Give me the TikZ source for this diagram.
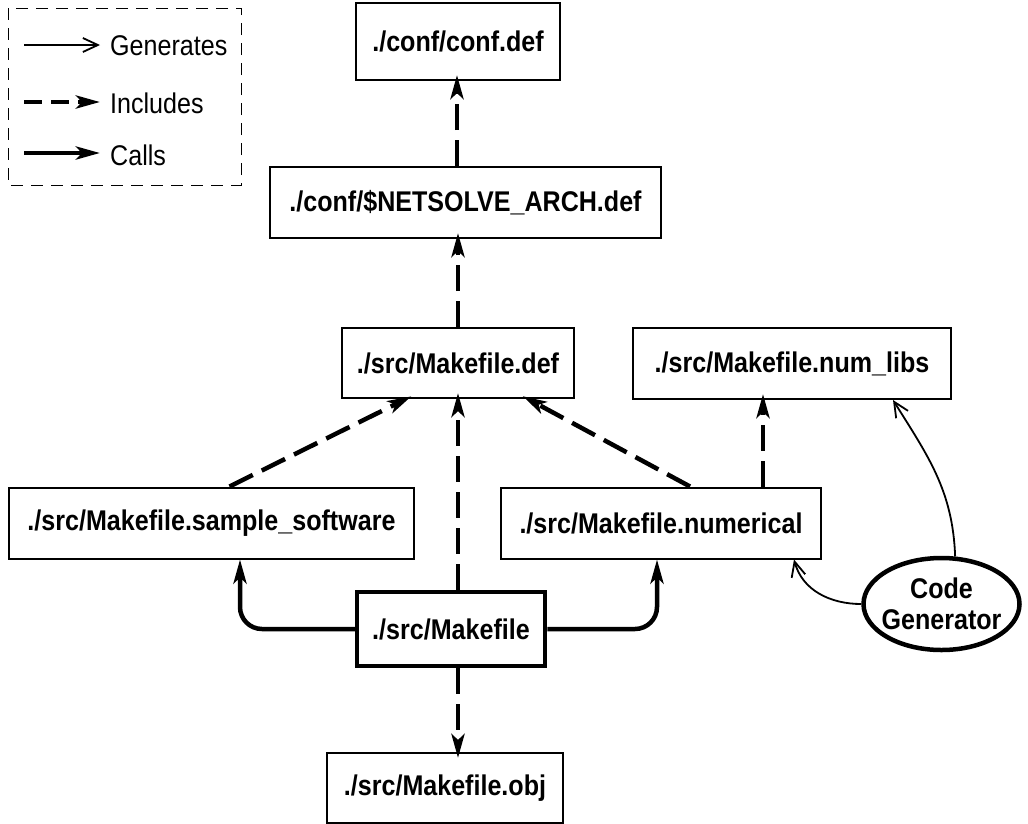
\documentclass[tikz,border=0pt]{standalone}
\usepackage{fontspec}
\setmainfont{Liberation Sans}
\newfontfamily\labfont[FakeStretch=0.88]{Liberation Sans}
\usetikzlibrary{arrows.meta,shapes.geometric}
\begin{document}
\begin{tikzpicture}[x=1pt,y=-1pt,
  box/.style={draw, line width=2pt, inner sep=0pt, font=\labfont\bfseries\fontsize{28.5}{32}\selectfont},
  inc/.style={line width=4.5pt, dash pattern=on 26pt off 10pt, -{Stealth[length=24pt,width=13pt,inset=6pt]}, shorten >=-6pt},
  call/.style={line width=4.5pt, -{Stealth[length=24pt,width=13pt,inset=6pt]}, rounded corners=22pt},
  gen/.style={line width=1.8pt, -{Straight Barb[length=15pt,width=14pt]}},
  legtext/.style={anchor=west, inner sep=0pt, font=\labfont\fontsize{28.5}{32}\selectfont}]
\useasboundingbox (0,0) rectangle (1028,823);
% legend
\draw[line width=1pt, dash pattern=on 12pt off 8pt] (8,8) rectangle (241,185);
\coordinate (g1) at (24,45); \coordinate (g2) at (100,45);
\coordinate (i1) at (24,102); \coordinate (i2) at (100,102);
\coordinate (c1) at (24,153); \coordinate (c2) at (100,153);
\draw[gen] (g1) -- (g2);
\draw[inc, shorten >=0pt, dash pattern=on 18pt off 9pt] (i1) -- (i2);
\draw[call] (c1) -- (c2);
\node[legtext] (lg) at (110,46) {Generates};
\node[legtext] (li) at (110,103) {Includes};
\node[legtext] (lc) at (110,155) {Calls};
% boxes
\node[box, minimum width=204pt, minimum height=77pt] (conf) at (458,41.5) {./conf/conf.def};
\node[box, minimum width=391pt, minimum height=71pt] (arch) at (465.5,202.5) {./conf/\$NETSOLVE\_ARCH.def};
\node[box, minimum width=232pt, minimum height=70pt] (mdef) at (458,363) {./src/Makefile.def};
\node[box, minimum width=318pt, minimum height=71pt] (numlibs) at (792,363.5) {./src/Makefile.num\_libs};
\node[box, minimum width=405pt, minimum height=71pt] (sample) at (211.5,523) {./src/Makefile.sample\_software};
\node[box, minimum width=320pt, minimum height=71pt] (numerical) at (661,523) {./src/Makefile.numerical};
\node[box, line width=4.5pt, minimum width=188pt, minimum height=74pt] (make) at (451,629) {./src/Makefile};
\node[box, minimum width=236pt, minimum height=70pt] (obj) at (445,788) {./src/Makefile.obj};
\node[draw, ellipse, line width=4.5pt, minimum width=156pt, minimum height=92pt, inner xsep=-9pt, inner ysep=0pt,
  align=center, font=\labfont\bfseries\fontsize{28.5}{31}\selectfont] (cg) at (941.5,604) {Code\\Generator};
% includes
\draw[inc] (arch.north -| 457,0) -- (conf.south -| 457,0);
\draw[inc] (mdef.north) -- (mdef.north |- arch.south);
\draw[inc] (make.north -| mdef.south) -- (mdef.south);
\draw[inc] ([xshift=18pt]sample.north) -- ([xshift=-52pt]mdef.south);
\draw[inc] ([xshift=29pt]numerical.north) -- ([xshift=70pt]mdef.south);
\draw[inc] ([xshift=102pt]numerical.north) -- ([xshift=-29pt]numlibs.south);
\draw[inc] (make.south -| mdef.south) -- (obj.north -| mdef.south);
% calls
\draw[call] (make.west) -| ([xshift=28.5pt]sample.south);
\draw[call] (make.east) -| ([xshift=-4pt]numerical.south);
% generates
\draw[gen] (cg.west) to[out=180,in=-75] ([xshift=133pt]numerical.south);
\draw[gen] (cg.74) to[out=92,in=-58] ([xshift=101pt]numlibs.south);
\end{tikzpicture}
\end{document}
